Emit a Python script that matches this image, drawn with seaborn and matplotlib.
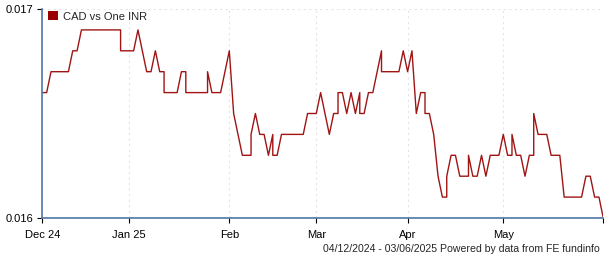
import numpy as np
import pandas as pd
import matplotlib
matplotlib.use("Agg")
import matplotlib.pyplot as plt
import seaborn as sns
from matplotlib.patches import Patch

# ---------------- data ----------------
series_name = "CAD vs One INR"
start_date = "2024-12-04"
end_date = "2025-06-03"

# closing value for each business day
closes = [
    0.0166, 0.0166, 0.0167, 0.0167, 0.0167, 0.0167, 0.0167, 0.0168, 0.0168, 0.0169,
    0.0169, 0.0169, 0.0169, 0.0169, 0.0169, 0.0169, 0.0169, 0.0169, 0.0168, 0.0168,
    0.0168, 0.0168, 0.0169, 0.0168, 0.0167, 0.0167, 0.0168, 0.0167, 0.0166, 0.0166,
    0.0166, 0.0166, 0.0167, 0.0166, 0.0166, 0.0166, 0.0166, 0.0166, 0.0167, 0.0166,
    0.0166, 0.0166, 0.0167, 0.0168, 0.0165, 0.0164, 0.0163, 0.0163, 0.0164, 0.0165,
    0.0164, 0.0164, 0.0163, 0.0163, 0.0163, 0.0164, 0.0164, 0.0164, 0.0164, 0.0164,
    0.0164, 0.0165, 0.0165, 0.0165, 0.0166, 0.0165, 0.0164, 0.0165, 0.0166, 0.0166,
    0.0165, 0.0166, 0.0165, 0.0165, 0.0165, 0.0166, 0.0166, 0.0167, 0.0167, 0.0167,
    0.0167, 0.0167, 0.0167, 0.0168, 0.0167, 0.0168, 0.0165, 0.0166, 0.0165, 0.0165,
    0.0164, 0.0162, 0.0161, 0.0162, 0.0163, 0.0163, 0.0162, 0.0162, 0.0163, 0.0162,
    0.0162, 0.0163, 0.0162, 0.0163, 0.0163, 0.0163, 0.0164, 0.0163, 0.0164, 0.0163,
    0.0163, 0.0162, 0.0163, 0.0165, 0.0164, 0.0164, 0.0164, 0.0163, 0.0163, 0.0163,
    0.0161, 0.0161, 0.0161, 0.0161, 0.0161, 0.0162, 0.0162, 0.0161, 0.0161, 0.0160,
]

# days on which the rate was quoted twice: earlier quote of the day
intraday_first = {
    "2024-12-30": 0.0169, "2025-01-13": 0.0167, "2025-01-20": 0.0167,
    "2025-01-27": 0.0166, "2025-02-10": 0.0163, "2025-02-17": 0.0164,
    "2025-03-10": 0.0165, "2025-03-17": 0.0166, "2025-03-24": 0.0168,
    "2025-04-07": 0.0166, "2025-04-14": 0.0161, "2025-04-21": 0.0162,
    "2025-05-05": 0.0163, "2025-05-12": 0.0163,
}

tick_dates = ["2024-12-04", "2025-01-01", "2025-02-03", "2025-03-03",
              "2025-04-01", "2025-05-01", "2025-06-03"]
tick_labels = ["Dec 24", "Jan 25", "Feb", "Mar", "Apr", "May", ""]
y_ticks = [0.016, 0.017]
y_tick_labels = ["0.016", "0.017"]
footer = "04/12/2024 - 03/06/2025 Powered by data from FE fundinfo"

# ---------------- build table ----------------
bdays = pd.bdate_range(start_date, end_date)
rows = []
for d, v in zip(bdays, closes):
    key = d.strftime("%Y-%m-%d")
    if key in intraday_first:
        rows.append((d, intraday_first[key]))
    rows.append((d, v))
df = pd.DataFrame(rows, columns=["date", "value"])
start = np.datetime64(start_date)
df["pos"] = np.busday_count(start, df["date"].values.astype("datetime64[D]"))
tick_pos = [np.busday_count(start, np.datetime64(t)) for t in tick_dates]

# ---------------- plot ----------------
sns.set_theme(style="white")
plt.rcParams["font.family"] = ["Liberation Sans", "DejaVu Sans"]

line_color = "#a01414"
spine_color = "#4e77a6"

fig = plt.figure(figsize=(6.05, 2.6), dpi=100)
ax = fig.add_axes([42.3 / 605, 1 - 218 / 260, (603.3 - 42.3) / 605, (218 - 9) / 260])

sns.lineplot(data=df, x="pos", y="value", estimator=None, sort=False,
             color=line_color, linewidth=1.0, ax=ax, legend=False)

ax.set_xlim(tick_pos[0], tick_pos[-1])
ax.set_ylim(y_ticks[0], y_ticks[-1])
ax.set_xlabel("")
ax.set_ylabel("")

ax.set_xticks(tick_pos)
ax.set_xticklabels(tick_labels)
ax.set_yticks(y_ticks)
ax.set_yticklabels(y_tick_labels)
ax.tick_params(axis="both", which="both", labelsize=8, colors="black",
               length=3.5, width=0.8, direction="out")
ax.tick_params(axis="x", pad=5.5)
ax.tick_params(axis="y", pad=3)
ax.tick_params(left=True, bottom=True)

for s in ["top", "right"]:
    ax.spines[s].set_visible(False)
for s in ["left", "bottom"]:
    ax.spines[s].set_color(spine_color)
    ax.spines[s].set_linewidth(1.2)

# dotted grid
for p in tick_pos[1:-1]:
    ax.axvline(p, color="#e4e4e4", linestyle=(0, (2, 3)), linewidth=0.8, zorder=0)
ax.axhline(y_ticks[-1], color="#e4e4e4", linestyle=(0, (2, 3)), linewidth=0.8, zorder=0)

leg = ax.legend(handles=[Patch(facecolor="#990000", edgecolor="none", label=series_name)],
                loc="upper left", bbox_to_anchor=(0.006, 1.0), frameon=False,
                fontsize=8, handlelength=0.9, handleheight=0.9,
                handletextpad=0.45, borderpad=0.2, borderaxespad=0.0)

fig.text(600 / 605, 1 - 249 / 260, footer, ha="right", va="center", fontsize=7.6)

fig.savefig("out.png", dpi=100)
